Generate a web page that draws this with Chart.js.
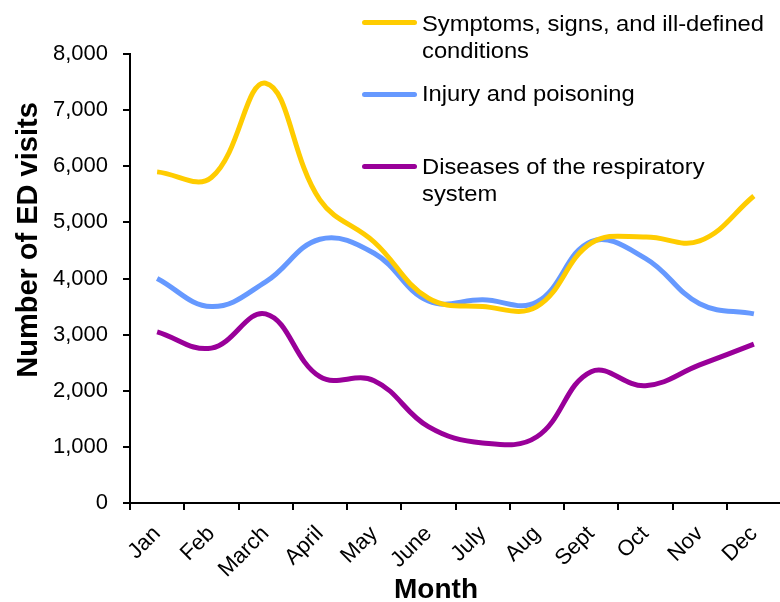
<!DOCTYPE html>
<html>
<head>
<meta charset="utf-8">
<script src="https://cdn.jsdelivr.net/npm/chart.js@4/dist/chart.umd.min.js"></script>
<style>
  body { margin: 0; background: #fff; overflow: hidden; }
  #wrap { position: relative; width: 780px; height: 602px; overflow: hidden; }
  canvas { position: absolute; left: 0; top: 0; }
  .leg { position: absolute; left: 362px; font: 22px "Liberation Sans", Arial, sans-serif; line-height: 27px; color: #000; }
  .leg i { position: absolute; left: 0; width: 55px; height: 5px; border-radius: 3px; }
  .leg span { position: absolute; left: 60px; white-space: nowrap; transform: scaleX(1.08); transform-origin: 0 0; }
</style>
</head>
<body>
<div id="wrap">
  <canvas id="chart" width="800" height="602"></canvas>
  <div class="leg" style="top:10px"><i style="top:10px;background:#ffcc00"></i><span>Symptoms, signs, and ill-defined<br>conditions</span></div>
  <div class="leg" style="top:80px"><i style="top:12px;background:#6699ff"></i><span>Injury and poisoning</span></div>
  <div class="leg" style="top:153px"><i style="top:11px;background:#990099"></i><span>Diseases of the respiratory<br>system</span></div>
</div>
<script>
"use strict";

// ---------------- data ----------------
const months = ["Jan", "Feb", "March", "April", "May", "June", "July", "Aug", "Sept", "Oct", "Nov", "Dec"];
const symptoms = [5900, 5800, 7480, 5400, 4650, 3650, 3500, 3500, 4630, 4740, 4670, 5470];
const injury = [4000, 3500, 3940, 4700, 4450, 3600, 3620, 3580, 4660, 4360, 3550, 3370];
const respiratory = [3050, 2760, 3370, 2250, 2180, 1360, 1070, 1180, 2340, 2090, 2460, 2830];

const yTitle = "Number of ED visits";
const xTitle = "Month";

const font = "\"Liberation Sans\", Arial, sans-serif";

// axis titles drawn by hand, Excel puts them off-centre
const axisTitles = {
  id: "axisTitles",
  afterDraw(chart) {
    let ctx = chart.ctx;
    ctx.save();
    ctx.fillStyle = "#000";
    ctx.textAlign = "center";
    ctx.textBaseline = "middle";
    ctx.font = "bold 29px " + font;
    ctx.translate(29, 240);
    ctx.rotate(-Math.PI / 2);
    ctx.fillText(yTitle, 0, 0);
    ctx.restore();
    ctx.save();
    ctx.fillStyle = "#000";
    ctx.textAlign = "center";
    ctx.textBaseline = "middle";
    ctx.font = "bold 28px " + font;
    ctx.fillText(xTitle, 436, 590);
    ctx.restore();
  }
};

function line(data, color) {
  return {
    data: data,
    borderColor: color,
    borderWidth: 5,
    pointRadius: 0,
    tension: 0.4,
    fill: false
  };
}

new Chart(document.getElementById("chart"), {
  type: "line",
  data: {
    labels: months,
    datasets: [
      line(symptoms, "#ffcc00"),
      line(injury, "#6699ff"),
      line(respiratory, "#990099")
    ]
  },
  options: {
    responsive: false,
    animation: false,
    layout: { padding: { top: 54, right: 19 } },
    plugins: { legend: { display: false }, tooltip: { enabled: false } },
    scales: {
      x: {
        offset: true,
        grid: { offset: true, drawOnChartArea: false, tickLength: 7, color: "#000", lineWidth: 2 },
        border: { color: "#000", width: 2 },
        ticks: { color: "#000", font: { size: 22, family: font }, minRotation: 45, maxRotation: 45, padding: 11 },
        afterFit(scale) { scale.height = 99; }
      },
      y: {
        min: 0,
        max: 8000,
        grid: { drawOnChartArea: false, tickLength: 7, color: "#000", lineWidth: 2 },
        border: { color: "#000", width: 2 },
        ticks: {
          stepSize: 1000,
          color: "#000",
          padding: 15,
          font: { size: 22, family: font },
          callback: v => v.toLocaleString("en-US")
        },
        afterFit(scale) { scale.width = 130; }
      }
    }
  },
  plugins: [axisTitles]
});
</script>
</body>
</html>
